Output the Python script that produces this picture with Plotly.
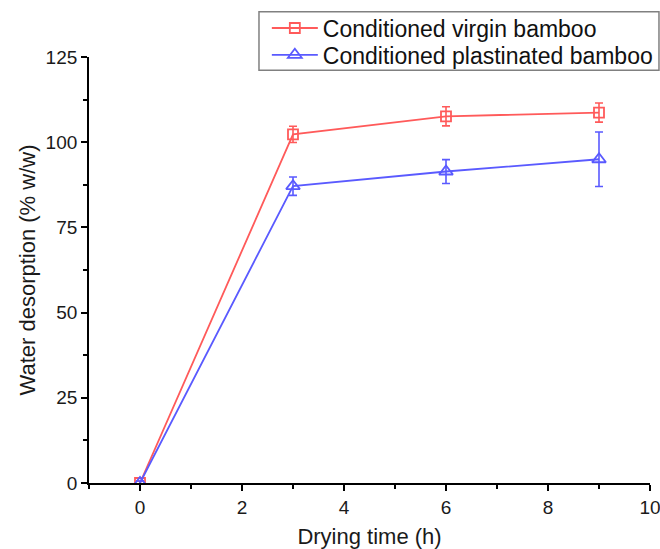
import plotly.graph_objects as go

drying_time = [0, 3, 6, 9]
virgin = [0.0, 102.3, 107.6, 108.7]
virgin_err = [0.6, 2.4, 2.8, 2.8]
plast = [0.0, 87.1, 91.4, 95.0]
plast_err = [0.6, 2.7, 3.5, 8.0]

red = "rgb(255,90,90)"
blue = "rgb(90,90,255)"
font = "Liberation Sans, Arial, sans-serif"

fig = go.Figure()
fig.add_trace(go.Scatter(
    x=drying_time, y=virgin, name="Conditioned virgin bamboo",
    mode="lines+markers", legend="legend",
    line=dict(color=red, width=1.8),
    marker=dict(symbol="square-open", size=10, color=red, line=dict(width=1.8)),
    error_y=dict(type="data", array=virgin_err, color=red, thickness=1.6, width=4),
))
fig.add_trace(go.Scatter(
    x=drying_time, y=plast, name="Conditioned plastinated bamboo",
    mode="lines+markers", legend="legend2",
    line=dict(color=blue, width=1.8),
    marker=dict(symbol="triangle-up-open", size=12, color=blue, line=dict(width=1.8)),
    error_y=dict(type="data", array=plast_err, color=blue, thickness=1.6, width=4),
))

leg_common = dict(
    xanchor="left", yanchor="middle", borderwidth=0, bgcolor="rgba(0,0,0,0)",
    font=dict(size=23, family=font, color="#111"), itemwidth=46,
)

fig.update_layout(
    width=660, height=549,
    margin=dict(l=89, r=10, t=57, b=66, autoexpand=False),
    paper_bgcolor="white", plot_bgcolor="white",
    font=dict(family=font, color="#1a1a1a"),
    showlegend=True,
    legend=dict(x=0.317, y=1.068, **leg_common),
    legend2=dict(x=0.317, y=1.005, **leg_common),
    shapes=[dict(type="rect", xref="paper", yref="paper",
                 x0=0.303, x1=1.016, y0=0.969, y1=1.106,
                 line=dict(color="#808080", width=1.5), fillcolor="rgba(0,0,0,0)", layer="below")],
    xaxis=dict(
        range=[-1, 10], showgrid=False, zeroline=False, automargin=False,
        showline=True, linecolor="black", linewidth=1.8,
        ticks="outside", ticklen=6, tickwidth=1.5, tickcolor="black",
        tickmode="linear", tick0=0, dtick=2, ticklabeloverflow="allow",
        minor=dict(ticks="outside", ticklen=4, tickwidth=1.5, tickcolor="black", dtick=1, tick0=0),
        tickfont=dict(size=19, family=font, color="#1a1a1a"),
        title=dict(text="Drying time (h)", font=dict(size=22, family=font, color="#1a1a1a"), standoff=16),
    ),
    yaxis=dict(
        range=[0, 125], showgrid=False, zeroline=False, automargin=False,
        showline=True, linecolor="black", linewidth=1.8,
        ticks="outside", ticklen=6, tickwidth=1.5, tickcolor="black",
        tickmode="linear", tick0=0, dtick=25, ticklabeloverflow="allow",
        minor=dict(ticks="outside", ticklen=4, tickwidth=1.5, tickcolor="black", dtick=12.5, tick0=0),
        tickfont=dict(size=19, family=font, color="#1a1a1a"),
        title=dict(text="Water desorption (% w/w)", font=dict(size=22, family=font, color="#1a1a1a"), standoff=4),
    ),
)

fig.write_html("out.html")
